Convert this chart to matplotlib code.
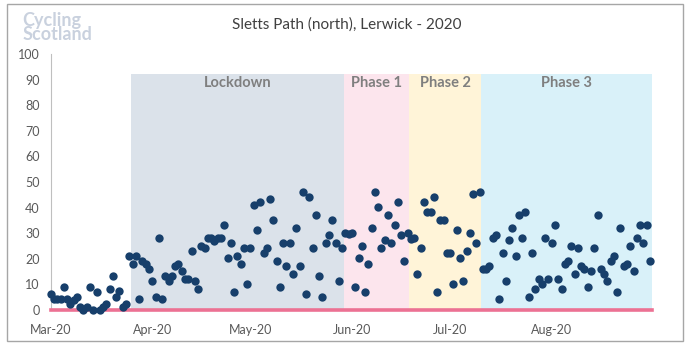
import pandas as pd
import matplotlib.pyplot as plt
import matplotlib.dates as mdates
from matplotlib.patches import Rectangle

plt.rcParams['font.family'] = ['Lato', 'DejaVu Sans']

# daily counts, 1 Mar - 31 Aug 2020
counts = [
    6.3, 4.3, 4.3, 4.3, 9.1, 4.3, 2.3, 3.9, 5.2, 1.3,
    0, 1.3, 9.1, 0, 7, 0, 1.3, 2.3, 8.2, 13.3,
    5.2, 7.3, 1, 2.3, 21, 18, 21, 4.3, 19.3, 18,
    16, 11.5, 5.2, 28.1, 4.3, 13.3, 11.3, 13.3, 17.2, 18.1,
    15.4, 12.1, 12.1, 23.2, 11.5, 8.2, 25.1, 24.1, 28.1, 28.1,
    27.1, 28.1, 28.1, 33.3, 20.3, 26.2, 7, 21.2, 18.1, 24.1,
    10.2, 24.1, 41, 31.2, 42.2, 22.3, 24.1, 43.4, 35.2, 19.3,
    9.1, 26.2, 17.2, 26.2, 14.1, 32, 17.2, 46.1, 6.3, 44.1,
    24.1, 37.1, 13.3, 5.2, 26.2, 29.3, 35.2, 26.2, 11.3, 24.1,
    30.2, 29.5, 30.2, 9.1, 20.2, 25, 7, 18, 32, 46.2,
    40.1, 24.1, 27.3, 37.1, 26.3, 33.2, 42.1, 29.3, 19.1, 30.2,
    27.6, 28.2, 14.1, 24.3, 42.1, 38.2, 38.2, 44.1, 7, 35.2,
    35.2, 22.1, 22.1, 10, 31.2, 20.2, 11.3, 23.2, 30.2, 45.2,
    26.3, 46.1, 16, 16, 17.2, 28, 29.3, 4.3, 22.1, 11.3,
    27.3, 32, 21.1, 37.1, 28.1, 38.2, 5.2, 22.1, 8.2, 12.1,
    10, 28.1, 12.1, 26.2, 33.2, 12.2, 8.2, 18, 19.3, 25,
    14.1, 24.1, 17.2, 16.1, 9.1, 15.1, 24.1, 37.1, 16.1, 14.1,
    11.3, 19.3, 21.1, 7.2, 32.1, 17.2, 18.1, 25, 15.1, 28.1,
    33.2, 26.2, 33.2, 19.3,
]
dates = pd.date_range('2020-03-01', periods=len(counts), freq='D')

phase_names = ['Lockdown', 'Phase 1', 'Phase 2', 'Phase 3']
phase_start = ['2020-03-26', '2020-05-30', '2020-06-19', '2020-07-11']
phase_end = ['2020-05-29', '2020-06-18', '2020-07-10', '2020-08-31']
phase_colors = ['#DBE2EA', '#FCE5ED', '#FFF4D8', '#D9F1F9']
band_top = 92

fig = plt.figure(figsize=(6.93, 3.45), dpi=100)
ax = fig.add_axes([0.0732, 0.1014, 0.867, 0.7421])

half = pd.Timedelta(hours=12)
for name, s, e, c in zip(phase_names, phase_start, phase_end, phase_colors):
    s = pd.Timestamp(s) - half
    e = pd.Timestamp(e) + half
    ax.fill_between([s, e], 0, band_top, color=c, lw=0, zorder=1)
    ax.text(s + (e - s) / 2, 88.7, name, ha='center', va='center',
            fontsize=10.5, fontweight='bold', color='#7F7F7F', zorder=2)

ax.axhline(0, color='#EC7193', lw=2.6, zorder=3, clip_on=False)
ax.scatter(dates, counts, s=36, color='#173F6B', lw=0, zorder=4, clip_on=False)

ax.set_ylim(0, 100)
ax.set_yticks(range(0, 101, 10))
ax.set_xlim(pd.Timestamp('2020-03-01'), pd.Timestamp('2020-08-31') + half)
ax.xaxis.set_major_locator(mdates.MonthLocator())
ax.xaxis.set_major_formatter(mdates.DateFormatter('%b-%y'))
ax.tick_params(length=0, labelsize=9, colors='#595959')
ax.tick_params(axis='x', pad=10)
ax.tick_params(axis='y', pad=8)

for side in ['top', 'right', 'bottom']:
    ax.spines[side].set_visible(False)
ax.spines['left'].set_color('#BFBFBF')

fig.text(0.5, 0.93, 'Sletts Path (north), Lerwick - 2020', ha='center',
         va='center', fontsize=11, color='#404040')
fig.text(0.032, 0.92, 'Cycling\nScotland', ha='left', va='center',
         fontsize=13, fontweight='bold', color='#C9D1DE', linespacing=0.8)

# chart border
fig.patches.append(Rectangle((7 / 693, 4 / 345), 676 / 693, 337 / 345,
                             transform=fig.transFigure, fill=False,
                             edgecolor='#A6A6A6', lw=1))

fig.savefig('out.png', dpi=100)
